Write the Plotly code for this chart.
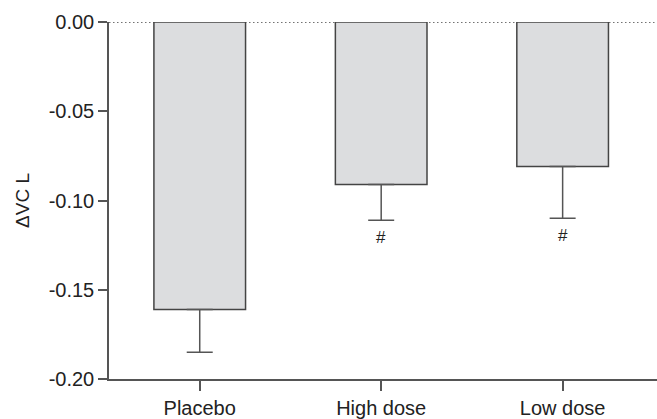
import plotly.graph_objects as go

categories = ["Placebo", "High dose", "Low dose"]
values = [-0.161, -0.091, -0.081]
errors_down = [0.024, 0.020, 0.029]
annotations_text = ["", "#", "#"]
y_tickvals = [0.00, -0.05, -0.10, -0.15, -0.20]
y_ticktext = ["0.00", "-0.05", "-0.10", "-0.15", "-0.20"]

font_family = "Arial, Liberation Sans, Helvetica, sans-serif"
axis_col = "#555555"

fig = go.Figure()
fig.add_trace(go.Bar(
    x=categories,
    y=values,
    width=0.505,
    marker=dict(color="#dcdddf", line=dict(color="#444444", width=1.5)),
    error_y=dict(type="data", symmetric=False, array=[0, 0, 0],
                 arrayminus=errors_down, color=axis_col, thickness=1.5, width=13),
    showlegend=False,
    hoverinfo="skip",
))

for cat, v, e, t in zip(categories, values, errors_down, annotations_text):
    if t:
        fig.add_annotation(x=cat, y=v - e, text=t, showarrow=False,
                           yanchor="top", yshift=-6,
                           font=dict(size=17, color="#222222", family=font_family))

fig.add_shape(type="line", xref="paper", yref="y", x0=0, x1=1, y0=0, y1=0,
              line=dict(color="#444444", width=1.5, dash="1.5px,2.5px"), layer="below")

fig.update_layout(
    width=657, height=419,
    margin=dict(l=109, r=0, t=22, b=37),
    paper_bgcolor="white", plot_bgcolor="white",
    font=dict(family=font_family, size=20, color="#222222"),
    xaxis=dict(range=[-0.5, 2.52], showline=True, linecolor=axis_col, linewidth=1.5,
               ticks="outside", ticklen=10, tickwidth=1.5, tickcolor=axis_col,
               showgrid=False, zeroline=False, tickfont=dict(size=20)),
    yaxis=dict(range=[-0.2, 0.0], showline=True, linecolor=axis_col, linewidth=1.5,
               ticks="outside", ticklen=9, tickwidth=1.5, tickcolor=axis_col,
               tickvals=y_tickvals, ticktext=y_ticktext,
               showgrid=False, zeroline=False, tickfont=dict(size=20),
               title=dict(text="ΔVC L", font=dict(size=19), standoff=14)),
)

fig.write_html("out.html",
               config={"displayModeBar": False},
               post_script="document.body.style.margin='0';document.body.style.overflow='hidden';")
